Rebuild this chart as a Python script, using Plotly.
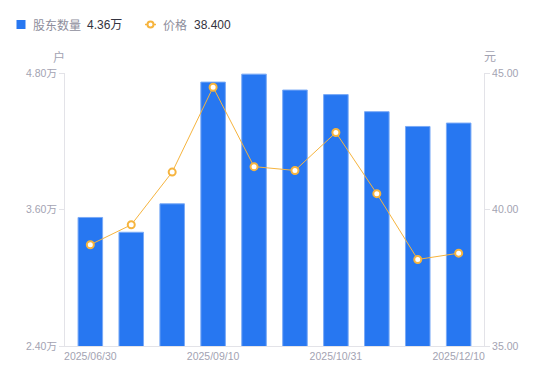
import plotly.graph_objects as go

dates = ["2025/06/30", "2025/07/31", "2025/08/20", "2025/09/10", "2025/09/30",
         "2025/10/20", "2025/10/31", "2025/11/10", "2025/11/20", "2025/12/10"]
holders = [3.53, 3.40, 3.65, 4.72, 4.79, 4.65, 4.61, 4.46, 4.33, 4.36]  # 万户
prices = [38.71, 39.44, 41.37, 44.48, 41.57, 41.43, 42.82, 40.58, 38.17, 38.40]
shown_ticks = ["2025/06/30", "2025/09/10", "2025/10/31", "2025/12/10"]
left_ticks = [2.4, 3.6, 4.8]
left_text = ["2.40万", "3.60万", "4.80万"]
right_ticks = [35, 40, 45]
right_text = ["35.00", "40.00", "45.00"]

FONT = "Liberation Sans, Arial, Noto Sans CJK SC, sans-serif"
GRAY = "#A3A3B2"
LGRAY = "#8E8E9C"
DARK = "#333340"
AXIS = "#E3E3E8"
BLUE = "#2777F1"
ORANGE = "#F6B43E"
TICK_SIZE = 10.5

fig = go.Figure()
fig.add_trace(go.Bar(
    x=dates, y=holders, yaxis="y", name="股东数量",
    marker=dict(color=BLUE, line=dict(color="#7AAAF6", width=1)),
))
fig.add_trace(go.Scatter(
    x=dates, y=prices, yaxis="y2", mode="lines+markers", name="价格",
    line=dict(color=ORANGE, width=1),
    marker=dict(size=7, color="white", line=dict(color=ORANGE, width=2)),
))

def ann(text, xs, ys, color, size=12):
    return dict(text=text, xref="paper", yref="paper", x=0, y=1, xshift=xs, yshift=ys,
                showarrow=False, font=dict(size=size, color=color),
                xanchor="left", yanchor="middle")

legend_y = 48
annotations = [
    ann("股东数量", -34, legend_y, LGRAY),
    ann(f"{holders[-1]:.2f}万", 20, legend_y, DARK),
    ann("价格", 96, legend_y, LGRAY),
    ann(f"{prices[-1]:.3f}", 127, legend_y, DARK),
    dict(text="户", xref="paper", yref="paper", x=0, y=1.0, xshift=-6, yshift=16,
         showarrow=False, font=dict(size=12, color=GRAY), xanchor="center", yanchor="middle"),
    dict(text="元", xref="paper", yref="paper", x=1, y=1.0, xshift=6, yshift=16,
         showarrow=False, font=dict(size=12, color=GRAY), xanchor="center", yanchor="middle"),
]
shapes = [
    dict(type="rect", xref="paper", yref="paper", xsizemode="pixel", ysizemode="pixel",
         xanchor=0, yanchor=1, x0=-48.5, x1=-39.5, y0=44, y1=53,
         fillcolor=BLUE, line=dict(width=0)),
    dict(type="line", xref="paper", yref="paper", xsizemode="pixel", ysizemode="pixel",
         xanchor=0, yanchor=1, x0=80, x1=91, y0=48.5, y1=48.5,
         line=dict(color=ORANGE, width=1.5)),
    dict(type="circle", xref="paper", yref="paper", xsizemode="pixel", ysizemode="pixel",
         xanchor=0, yanchor=1, x0=82.5, x1=88.5, y0=45.5, y1=51.5,
         fillcolor="white", line=dict(color=ORANGE, width=2)),
]

fig.update_layout(
    width=542, height=373,
    margin=dict(l=57, r=66, t=65, b=35),
    paper_bgcolor="white", plot_bgcolor="white",
    font=dict(family=FONT, size=TICK_SIZE, color=GRAY),
    bargap=0.4,
    showlegend=False,
    xaxis=dict(
        type="category", tickmode="array", tickvals=shown_ticks, ticktext=shown_ticks,
        showline=True, linecolor=AXIS, linewidth=1, ticks="", showgrid=False,
        tickfont=dict(size=TICK_SIZE, color=GRAY), tickangle=0, automargin=False,
    ),
    yaxis=dict(
        range=[2.4, 4.8], tickmode="array", tickvals=left_ticks, ticktext=left_text,
        showline=True, linecolor=AXIS, linewidth=1, ticks="outside", ticklen=5,
        tickcolor=AXIS, showgrid=False, zeroline=False, automargin=False,
        tickfont=dict(size=TICK_SIZE, color=GRAY),
    ),
    yaxis2=dict(
        range=[35, 45], tickmode="array", tickvals=right_ticks, ticktext=right_text,
        overlaying="y", side="right", automargin=False,
        showline=True, linecolor=AXIS, linewidth=1, ticks="outside", ticklen=5,
        tickcolor=AXIS, showgrid=False, zeroline=False,
        tickfont=dict(size=TICK_SIZE, color=GRAY),
    ),
    annotations=annotations,
    shapes=shapes,
)

fig.write_html("out.html")
